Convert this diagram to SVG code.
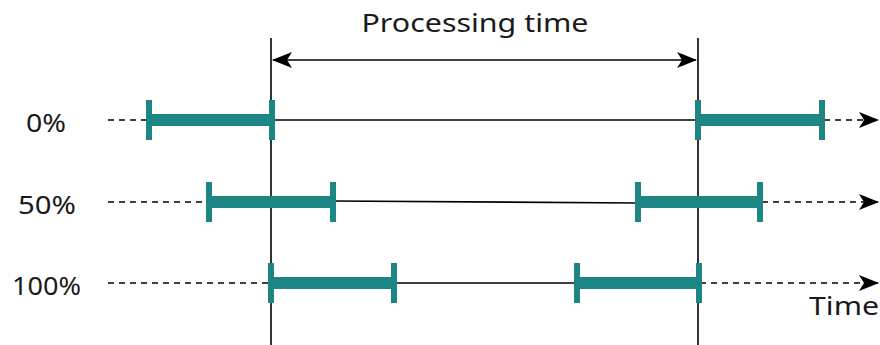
<svg xmlns="http://www.w3.org/2000/svg" width="880" height="345" viewBox="0 0 880 345">
<style>
.lbl{font-family:"Noto Sans","Open Sans","DejaVu Sans",sans-serif;font-size:26px;fill:#1a1a1a}
.thin{stroke:#000;stroke-width:1.6;fill:none}
.dash{stroke:#000;stroke-width:1.6;stroke-dasharray:6 5;fill:none}
.bar{fill:#1e8585}
</style>
<defs>
<marker id="ah" viewBox="0 0 20 16" refX="19" refY="8" markerWidth="20" markerHeight="16" markerUnits="userSpaceOnUse" orient="auto-start-reverse">
<path d="M0,0 L20,8 L0,16 L5,8 Z" fill="#000"/>
</marker>
</defs>
<g id="guides">
<line class="thin" x1="271" y1="38" x2="271" y2="345"/>
<line class="thin" x1="698" y1="38" x2="698" y2="345"/>
</g>
<g id="connectors">
<line class="thin" x1="273" y1="60" x2="696" y2="60" marker-start="url(#ah)" marker-end="url(#ah)"/>
<line class="dash" x1="108" y1="120" x2="148" y2="120"/>
<line class="thin" x1="272" y1="120" x2="698" y2="120"/>
<line class="dash" x1="824" y1="120" x2="878" y2="120" marker-end="url(#ah)"/>
<line class="dash" x1="108" y1="202" x2="209" y2="202"/>
<line class="thin" x1="333" y1="201" x2="637" y2="203"/>
<line class="dash" x1="762" y1="202" x2="878" y2="202" marker-end="url(#ah)"/>
<line class="dash" x1="108" y1="283" x2="270" y2="283"/>
<line class="thin" x1="394" y1="283" x2="577" y2="283"/>
<line class="dash" x1="700" y1="283" x2="878" y2="283" marker-end="url(#ah)"/>
</g>
<g id="row0">
<rect class="bar" x="146" y="100" width="6" height="40"/>
<rect class="bar" x="146" y="114" width="127" height="12"/>
<rect class="bar" x="269" y="100" width="6" height="40"/>
<rect class="bar" x="695" y="100" width="6" height="40"/>
<rect class="bar" x="695" y="114" width="127" height="12"/>
<rect class="bar" x="819" y="100" width="6" height="40"/>
</g>
<g id="row50">
<rect class="bar" x="206" y="182" width="6" height="40"/>
<rect class="bar" x="206" y="196" width="127" height="12"/>
<rect class="bar" x="330" y="182" width="6" height="40"/>
<rect class="bar" x="635" y="182" width="6" height="40"/>
<rect class="bar" x="635" y="196" width="127" height="12"/>
<rect class="bar" x="757" y="182" width="6" height="40"/>
</g>
<g id="row100">
<rect class="bar" x="268" y="263" width="6" height="40"/>
<rect class="bar" x="268" y="277" width="127" height="12"/>
<rect class="bar" x="391" y="263" width="6" height="40"/>
<rect class="bar" x="574" y="263" width="6" height="40"/>
<rect class="bar" x="574" y="277" width="127" height="12"/>
<rect class="bar" x="696" y="263" width="6" height="40"/>
</g>
<g id="labels">
<text class="lbl" x="475" y="32" text-anchor="middle" textLength="227" lengthAdjust="spacingAndGlyphs">Processing time</text>
<text class="lbl" x="26" y="132" textLength="40" lengthAdjust="spacingAndGlyphs">0%</text>
<text class="lbl" x="18" y="214" textLength="58" lengthAdjust="spacingAndGlyphs">50%</text>
<text class="lbl" x="12" y="295" textLength="69" lengthAdjust="spacingAndGlyphs">100%</text>
<text class="lbl" x="809" y="315" textLength="70" lengthAdjust="spacingAndGlyphs">Time</text>
</g>
</svg>
